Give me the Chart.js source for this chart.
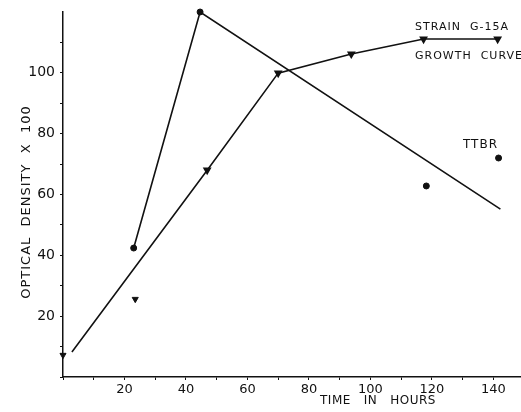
<!DOCTYPE html>
<html>
<head>
<meta charset="utf-8">
<script src="https://cdn.jsdelivr.net/npm/chart.js@4"></script>
<style>
html,body{margin:0;padding:0;background:#fff;}
canvas{display:block;}
</style>
</head>
<body>
<canvas id="c" width="521" height="412"></canvas>
<script>
// TTBR measured points (circles)
const ttbrHours = [23, 44.6, 118.2, 141.7];
const ttbrOD = [42.4, 120, 62.8, 72];
// TTBR drawn curve
const ttbrLineHours = [23, 44.6, 142.3];
const ttbrLineOD = [42.4, 120, 55.2];
// Growth curve measured points (triangles) not on the drawn curve
const growthOffHours = [0, 23.5];
const growthOffOD = [7.2, 25.6];
// Growth curve drawn line
const growthLineHours = [2.9, 46.9, 70, 93.8, 117.3, 141.4];
const growthLineOD = [8.2, 68, 99.9, 106.2, 111.1, 111.1];
const growthLineMarkers = [false, true, true, true, true, true];
// axis ticks (labelled) and tick marks
const xTickLabels = [20, 40, 60, 80, 100, 120, 140];
const xTickMarks = [0, 10, 20, 30, 40, 50, 60, 70, 80, 90, 100, 110, 120, 130, 140];
const yTickLabels = [20, 40, 60, 80, 100];
const yTickMarks = [0, 10, 20, 30, 40, 50, 60, 70, 80, 90, 100, 110];

const toXY = (xs, ys) => xs.map((x, i) => ({x: x, y: ys[i]}));
const INK = '#111';

const textPlugin = {
  id: 'texts',
  afterDraw(chart) {
    const ctx = chart.ctx;
    ctx.save();
    ctx.fillStyle = INK;
    ctx.textBaseline = 'middle';
    ctx.font = '11px "DejaVu Sans"';
    ctx.letterSpacing = '1px';
    ctx.textAlign = 'left';
    ctx.fillText('STRAIN  G-15A', 415, 27);
    ctx.fillText('GROWTH  CURVE', 415, 56);
    ctx.font = '12px "DejaVu Sans"';
    ctx.fillText('TTBR', 463, 145);
    ctx.textAlign = 'center';
    ctx.font = '12px "DejaVu Sans"';
    ctx.letterSpacing = '0.5px';
    ctx.fillText('TIME   IN   HOURS', 378, 401);
    ctx.translate(27, 202);
    ctx.rotate(-Math.PI / 2);
    ctx.font = '13px "DejaVu Sans"';
    ctx.letterSpacing = '1px';
    ctx.fillText('OPTICAL  DENSITY  X  100', 0, 0);
    ctx.restore();
  }
};

new Chart(document.getElementById('c'), {
  type: 'scatter',
  data: {
    datasets: [
      {
        data: toXY(ttbrLineHours, ttbrLineOD),
        showLine: true,
        borderColor: INK,
        borderWidth: 1.6,
        pointRadius: 0,
        clip: false
      },
      {
        data: toXY(ttbrHours, ttbrOD),
        showLine: false,
        pointStyle: 'circle',
        pointRadius: 3,
        backgroundColor: INK,
        borderColor: INK,
        clip: false
      },
      {
        data: toXY(growthLineHours, growthLineOD),
        showLine: true,
        borderColor: INK,
        borderWidth: 1.6,
        pointStyle: 'triangle',
        rotation: 180,
        pointRadius: growthLineMarkers.map(m => m ? 3.5 : 0),
        backgroundColor: INK,
        pointBorderColor: INK,
        clip: false
      },
      {
        data: toXY(growthOffHours, growthOffOD),
        showLine: false,
        pointStyle: 'triangle',
        rotation: 180,
        pointRadius: 3.5,
        backgroundColor: INK,
        borderColor: INK,
        clip: false
      }
    ]
  },
  options: {
    responsive: false,
    animation: false,
    layout: {autoPadding: false, padding: {top: 12, left: 0, right: 0, bottom: 0}},
    plugins: {legend: {display: false}, tooltip: {enabled: false}},
    scales: {
      x: {
        type: 'linear',
        min: 0,
        max: 149,
        afterBuildTicks: s => { s.ticks = xTickMarks.map(v => ({value: v})); },
        afterFit: s => { s.height = 35; s.paddingLeft = 0; s.paddingRight = 0; },
        border: {color: INK, width: 1.5},
        grid: {drawOnChartArea: false, drawTicks: true, tickLength: 3, color: INK},
        ticks: {
          padding: 2,
          autoSkip: false,
          maxRotation: 0,
          color: INK,
          font: {family: 'DejaVu Sans', size: 13},
          callback: v => xTickLabels.includes(v) ? String(v) : ''
        }
      },
      y: {
        type: 'linear',
        min: 0,
        max: 120,
        afterBuildTicks: s => { s.ticks = yTickMarks.map(v => ({value: v})); },
        afterFit: s => { s.width = 63; s.paddingTop = 0; s.paddingBottom = 0; },
        border: {color: INK, width: 1.5},
        grid: {drawOnChartArea: false, drawTicks: true, tickLength: 3, color: INK},
        ticks: {
          padding: 5,
          autoSkip: false,
          color: INK,
          font: {family: 'DejaVu Sans', size: 14},
          callback: v => yTickLabels.includes(v) ? String(v) : ''
        }
      }
    }
  },
  plugins: [textPlugin]
});
</script>
</body>
</html>
